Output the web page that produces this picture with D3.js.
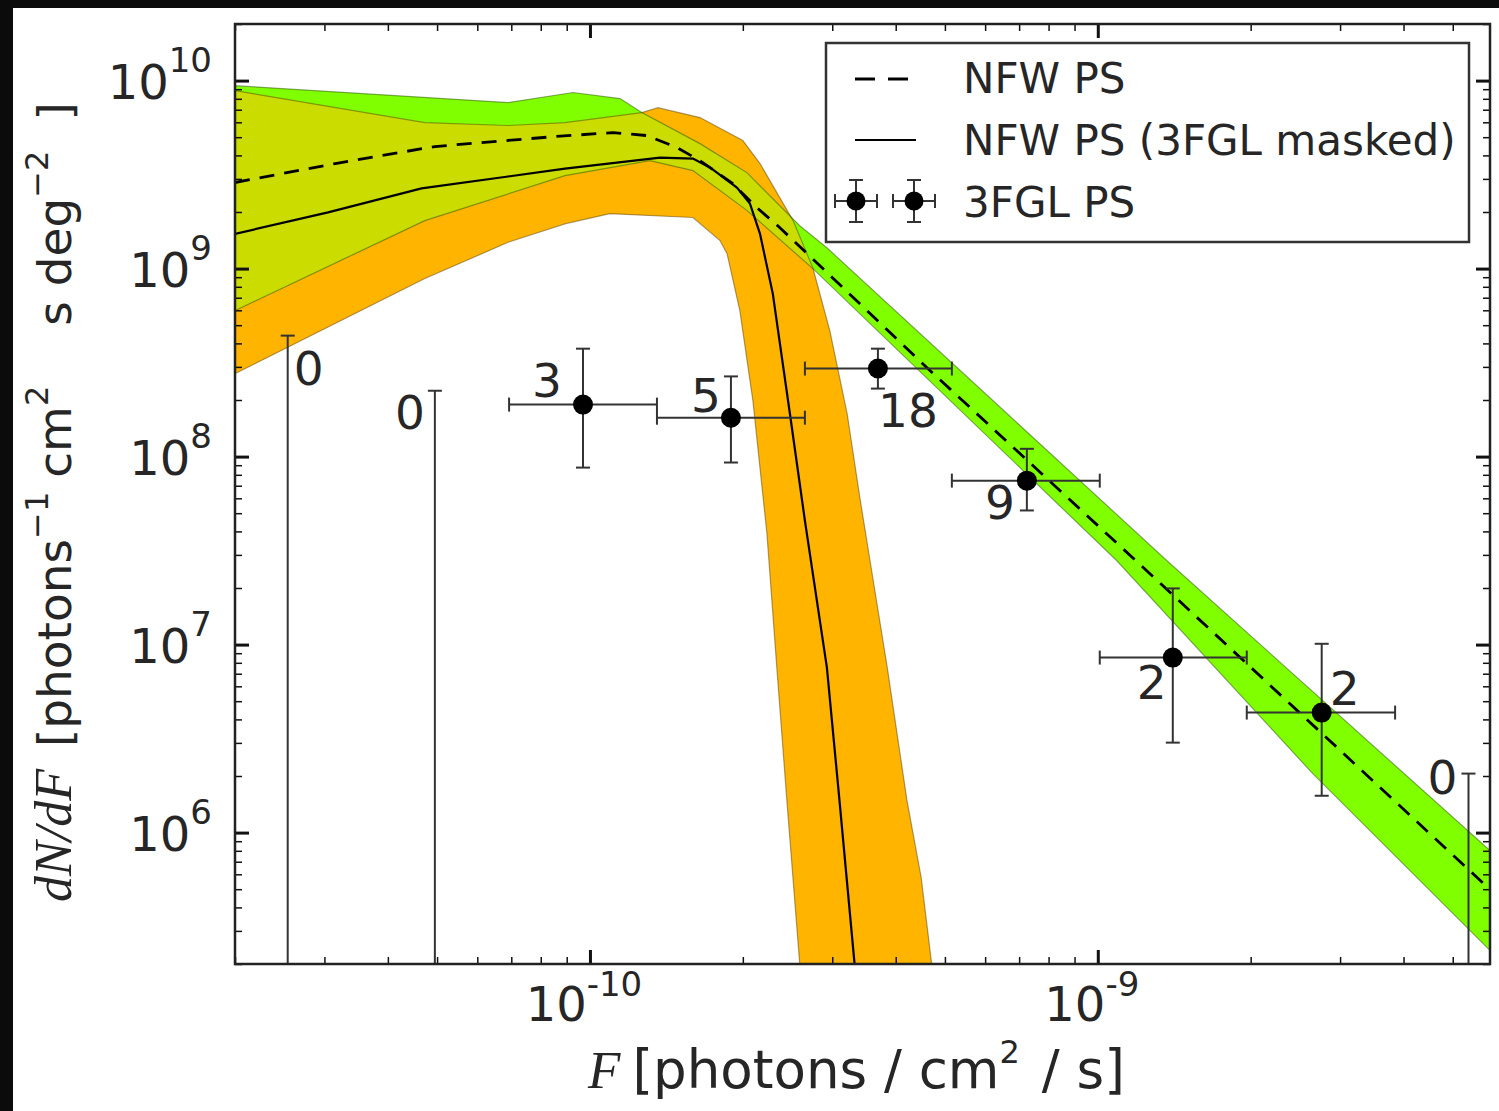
<!DOCTYPE html>
<html><head><meta charset="utf-8">
<script src="https://cdn.jsdelivr.net/npm/d3@7"></script>
<style>
html,body{margin:0;padding:0;background:#0b0b0b;overflow:hidden;}
svg{display:block;}
</style></head><body>
<svg id="chart" width="1499" height="1111"></svg>
<script>
// ---------------- data ----------------
const xDomain = [2e-11, 5.92e-9];
const yDomain = [2e5, 2e10];
const xTickVals = [1e-10, 1e-9];
const xTickExp = ["-10", "-9"];
const yTickVals = [1e6, 1e7, 1e8, 1e9, 1e10];
const yTickExp = ["6", "7", "8", "9", "10"];

// NFW PS (green band + dashed median)
const nfwUpF = [2.00e-11, 6.90e-11, 9.26e-11, 1.146e-10, 1.265e-10, 1.647e-10, 2.037e-10, 2.589e-10, 2.928e-10, 1.367e-9, 5.92e-9];
const nfwUpY = [9.40e9, 7.64e9, 8.64e9, 8.02e9, 6.76e9, 4.62e9, 3.24e9, 1.69e9, 1.29e9, 2.80e7, 8.02e5];
const nfwLoF = [2.00e-11, 4.73e-11, 8.93e-11, 1.312e-10, 1.595e-10, 2.037e-10, 2.747e-10, 1.089e-9, 2.65e-9, 5.92e-9];
const nfwLoY = [5.98e8, 1.80e9, 3.12e9, 3.75e9, 3.32e9, 2.04e9, 1.00e9, 2.80e7, 2.06e6, 2.36e5];
const nfwF = [2.00e-11, 3.15e-11, 4.95e-11, 8.53e-11, 1.110e-10, 1.295e-10, 1.483e-10, 1.647e-10, 1.911e-10, 2.132e-10, 2.366e-10, 4.61e-10, 1.265e-9, 5.92e-9];
const nfwY = [2.87e9, 3.62e9, 4.46e9, 5.04e9, 5.29e9, 5.10e9, 4.41e9, 3.75e9, 2.83e9, 2.11e9, 1.65e9, 2.97e8, 2.39e7, 4.98e5];

// NFW PS (3FGL masked) (orange band + solid median)
const maskUpF = [2.00e-11, 4.73e-11, 6.90e-11, 8.93e-11, 1.265e-10, 1.361e-10, 1.647e-10, 2.00e-10, 2.162e-10, 2.512e-10, 2.747e-10, 2.967e-10, 3.21e-10, 3.40e-10, 3.56e-10, 3.85e-10, 4.21e-10, 4.49e-10, 4.71e-10, 5.00e-10];
const maskUpY = [8.85e9, 5.98e9, 5.77e9, 5.98e9, 6.76e9, 7.18e9, 6.36e9, 4.80e9, 3.62e9, 1.80e9, 1.01e9, 4.68e8, 1.69e8, 6.05e7, 2.80e7, 7.55e6, 1.48e6, 5.77e5, 1.99e5, 6.1e4];
const maskLoF = [2.00e-11, 4.73e-11, 6.90e-11, 8.93e-11, 1.094e-10, 1.595e-10, 1.803e-10, 1.862e-10, 1.973e-10, 2.093e-10, 2.231e-10, 2.333e-10, 2.442e-10, 2.589e-10, 2.69e-10];
const maskLoY = [2.76e8, 8.85e8, 1.38e9, 1.73e9, 1.96e9, 1.87e9, 1.41e9, 1.20e9, 5.98e8, 1.99e8, 3.89e7, 7.55e6, 1.48e6, 1.99e5, 6.1e4];
const maskF = [2.00e-11, 3.05e-11, 4.66e-11, 6.90e-11, 8.93e-11, 1.374e-10, 1.595e-10, 1.723e-10, 1.947e-10, 2.065e-10, 2.162e-10, 2.291e-10, 2.476e-10, 2.65e-10, 2.928e-10, 3.10e-10, 3.32e-10, 3.40e-10];
const maskY = [1.53e9, 1.99e9, 2.67e9, 3.09e9, 3.40e9, 3.89e9, 3.85e9, 3.45e9, 2.70e9, 2.22e9, 1.53e9, 7.36e8, 1.69e8, 4.57e7, 7.55e6, 1.48e6, 1.99e5, 1.0e5];

// 3FGL PS histogram
const binF    = [2.54e-11, 4.95e-11, 9.69e-11, 1.895e-10, 3.69e-10, 7.25e-10, 1.405e-9, 2.76e-9, 5.37e-9];
const binLo   = [0, 0, 6.93e-11, 1.355e-10, 2.65e-10, 5.16e-10, 1.009e-9, 1.965e-9, 0];
const binHi   = [0, 0, 1.355e-10, 2.65e-10, 5.16e-10, 1.009e-9, 1.965e-9, 3.85e-9, 0];
const counts  = [0, 0, 3, 5, 18, 9, 2, 2, 0];
const dndf    = [0, 0, 1.89e8, 1.61e8, 2.94e8, 7.45e7, 8.53e6, 4.35e6, 0];
const errHigh = [4.40e8, 2.24e8, 3.75e8, 2.67e8, 3.75e8, 1.10e8, 1.99e7, 1.01e7, 2.06e6];
const errLow  = [0, 0, 8.74e7, 9.3e7, 2.30e8, 5.17e7, 3.01e6, 1.57e6, 0];

const legendLabels = ["NFW PS", "NFW PS (3FGL masked)", "3FGL PS"];

// ---------------- layout / style ----------------
const L = 235, R = 1490, T = 24, B = 964;
const cGreen = "#80ff00", cOrange = "#ffb400", cOlive = "#cadc00";
const textCol = "#262626";
const labelOffsets = [[21,33],[-25,22],[-36,-24],[-25,-22],[30,42],[-27,22],[-21,25],[23,-24],[-26,4]];

const svg = d3.select("#chart");
svg.append("rect").attr("x",0).attr("y",0).attr("width",1499).attr("height",1111).attr("fill","#0b0b0b");
svg.append("rect").attr("x",13).attr("y",8).attr("width",1486).attr("height",1103).attr("fill","#ffffff");

const x = d3.scaleLog().domain(xDomain).range([L, R]);
const y = d3.scaleLog().domain(yDomain).range([B, T]);

const defs = svg.append("defs");
defs.append("clipPath").attr("id","plotClip").append("rect").attr("x",L).attr("y",T).attr("width",R-L).attr("height",B-T);

function bandPath(uF,uY,lF,lY){
  const pts = uF.map((f,i)=>[x(f),y(uY[i])]).concat(lF.map((f,i)=>[x(f),y(lY[i])]).reverse());
  return d3.line()(pts) + "Z";
}
const greenPath = bandPath(nfwUpF,nfwUpY,nfwLoF,nfwLoY);
const orangePath = bandPath(maskUpF,maskUpY,maskLoF,maskLoY);
defs.append("clipPath").attr("id","orangeClip").append("path").attr("d",orangePath);

const plot = svg.append("g").attr("clip-path","url(#plotClip)");
plot.append("path").attr("d",orangePath).attr("fill",cOrange);
plot.append("path").attr("d",greenPath).attr("fill",cGreen);
plot.append("g").attr("clip-path","url(#orangeClip)").append("path").attr("d",greenPath).attr("fill",cOlive);
plot.append("path").attr("d",orangePath).attr("fill","none").attr("stroke","rgba(70,50,0,0.45)").attr("stroke-width",1.2);
plot.append("path").attr("d",greenPath).attr("fill","none").attr("stroke","rgba(30,60,0,0.45)").attr("stroke-width",1.2);

const line = d3.line().x(d=>x(d[0])).y(d=>y(d[1]));
plot.append("path").attr("d", line(maskF.map((f,i)=>[f,maskY[i]]))).attr("fill","none").attr("stroke","#000").attr("stroke-width",2.2);
plot.append("path").attr("d", line(nfwF.map((f,i)=>[f,nfwY[i]]))).attr("fill","none").attr("stroke","#000").attr("stroke-width",2.8).attr("stroke-dasharray","15,10");

// error bars
const eb = plot.append("g").attr("stroke","#333").attr("stroke-width",2).attr("fill","none");
const cap = 7;
binF.forEach((f,i)=>{
  const cx = x(f);
  const yTop = y(errHigh[i]);
  const yBot = counts[i] === 0 ? B + 20 : y(errLow[i]);
  eb.append("line").attr("x1",cx).attr("x2",cx).attr("y1",yTop).attr("y2",yBot);
  eb.append("line").attr("x1",cx-cap).attr("x2",cx+cap).attr("y1",yTop).attr("y2",yTop);
  if (counts[i] > 0) {
    eb.append("line").attr("x1",cx-cap).attr("x2",cx+cap).attr("y1",yBot).attr("y2",yBot);
    const cy = y(dndf[i]);
    const x1 = x(binLo[i]), x2 = x(binHi[i]);
    eb.append("line").attr("x1",x1).attr("x2",x2).attr("y1",cy).attr("y2",cy);
    eb.append("line").attr("x1",x1).attr("x2",x1).attr("y1",cy-cap).attr("y2",cy+cap);
    eb.append("line").attr("x1",x2).attr("x2",x2).attr("y1",cy-cap).attr("y2",cy+cap);
  }
});
binF.forEach((f,i)=>{
  if (counts[i] > 0) plot.append("circle").attr("cx",x(f)).attr("cy",y(dndf[i])).attr("r",10).attr("fill","#000");
});
// count labels
binF.forEach((f,i)=>{
  const ay = counts[i] > 0 ? y(dndf[i]) : y(errHigh[i]);
  svg.append("text").attr("x",x(f)+labelOffsets[i][0]).attr("y",ay+labelOffsets[i][1])
    .attr("text-anchor","middle").attr("dominant-baseline","central")
    .attr("font-family","DejaVu Sans").attr("font-size",47).attr("fill",textCol).text(counts[i]);
});

// ---------------- axes ----------------
function minorVals(dom){
  const out=[]; const e0=Math.floor(Math.log10(dom[0])), e1=Math.ceil(Math.log10(dom[1]));
  for(let e=e0;e<=e1;e++) for(let m=2;m<=9;m++){const v=m*Math.pow(10,e); if(v>=dom[0]&&v<=dom[1]) out.push(v);}
  return out;
}
const xMinor = minorVals(xDomain), yMinor = minorVals(yDomain);
function styleAxis(g, w){ g.select(".domain").remove(); g.selectAll("line").attr("stroke","#111").attr("stroke-width",w); g.selectAll("text").remove(); }
const axes = [
  [d3.axisBottom(x), `translate(0,${B})`, xTickVals, xMinor],
  [d3.axisTop(x), `translate(0,${T})`, xTickVals, xMinor],
  [d3.axisLeft(y), `translate(${L},0)`, yTickVals, yMinor],
  [d3.axisRight(y), `translate(${R},0)`, yTickVals, yMinor]
];
axes.forEach(([ax,tr,maj,min])=>{
  svg.append("g").attr("transform",tr).call(ax.tickValues(min).tickSize(-7).tickFormat("")).call(g=>styleAxis(g,1.5));
  svg.append("g").attr("transform",tr).call(ax.tickValues(maj).tickSize(-14).tickFormat("")).call(g=>styleAxis(g,3));
});
svg.append("rect").attr("x",L).attr("y",T).attr("width",R-L).attr("height",B-T).attr("fill","none").attr("stroke","#222").attr("stroke-width",2.5);

// tick labels
xTickVals.forEach((v,i)=>{
  const t = svg.append("text").attr("x",x(v)-6).attr("y",1021).attr("text-anchor","middle")
    .attr("font-family","DejaVu Sans").attr("font-size",48).attr("fill",textCol);
  t.append("tspan").text("10");
  t.append("tspan").attr("font-size",34).attr("dy",-25).text(xTickExp[i]);
});
yTickVals.forEach((v,i)=>{
  const t = svg.append("text").attr("x",212).attr("y",y(v)+18).attr("text-anchor","end")
    .attr("font-family","DejaVu Sans").attr("font-size",48).attr("fill",textCol);
  t.append("tspan").text("10");
  t.append("tspan").attr("font-size",34).attr("dy",-27).text(yTickExp[i]);
});

// axis labels
const xl = svg.append("text").attr("x",588).attr("y",1088).attr("font-family","DejaVu Sans").attr("font-size",53).attr("fill",textCol);
xl.append("tspan").attr("font-family","Liberation Serif").attr("font-style","italic").attr("font-size",53).text("F");
xl.append("tspan").attr("dx",12).text("[photons / cm");
xl.append("tspan").attr("font-size",32).attr("dy",-25).text("2");
xl.append("tspan").attr("dy",25).attr("dx",22).text("/ s]");

const yl = svg.append("text").attr("transform","translate(71,902) rotate(-90)").attr("font-family","DejaVu Sans").attr("font-size",47).attr("fill",textCol);
yl.append("tspan").attr("font-family","Liberation Serif").attr("font-style","italic").attr("font-size",52).text("dN/dF");
yl.append("tspan").attr("dx",22).text("[photons");
yl.append("tspan").attr("font-size",32).attr("dy",-23).text("\u22121");
yl.append("tspan").attr("dy",23).attr("dx",14).text("cm");
yl.append("tspan").attr("font-size",32).attr("dy",-23).text("2");
yl.append("tspan").attr("dy",23).attr("dx",60).text("s deg");
yl.append("tspan").attr("font-size",32).attr("dy",-23).text("\u22122");
yl.append("tspan").attr("dy",23).attr("dx",30).text("]");

// ---------------- legend ----------------
const lg = svg.append("g");
lg.append("rect").attr("x",826).attr("y",43).attr("width",643).attr("height",199).attr("fill","#fff").attr("stroke","#333").attr("stroke-width",2.5);
lg.append("line").attr("x1",855).attr("x2",911).attr("y1",79).attr("y2",79).attr("stroke","#000").attr("stroke-width",2.8).attr("stroke-dasharray","20,13");
lg.append("line").attr("x1",855).attr("x2",916).attr("y1",140).attr("y2",140).attr("stroke","#000").attr("stroke-width",2.2);
[856,914].forEach(cx=>{
  const g = lg.append("g").attr("stroke","#333").attr("stroke-width",2);
  g.append("line").attr("x1",cx-21).attr("x2",cx+21).attr("y1",201).attr("y2",201);
  g.append("line").attr("x1",cx).attr("x2",cx).attr("y1",180).attr("y2",222);
  g.append("line").attr("x1",cx-21).attr("x2",cx-21).attr("y1",194).attr("y2",208);
  g.append("line").attr("x1",cx+21).attr("x2",cx+21).attr("y1",194).attr("y2",208);
  g.append("line").attr("x1",cx-7).attr("x2",cx+7).attr("y1",180).attr("y2",180);
  g.append("line").attr("x1",cx-7).attr("x2",cx+7).attr("y1",222).attr("y2",222);
  lg.append("circle").attr("cx",cx).attr("cy",201).attr("r",9.5).attr("fill","#000");
});
legendLabels.forEach((s,i)=>{
  lg.append("text").attr("x",963).attr("y",93+i*62).attr("font-family","DejaVu Sans").attr("font-size",42).attr("fill",textCol).text(s);
});
</script>
</body></html>
